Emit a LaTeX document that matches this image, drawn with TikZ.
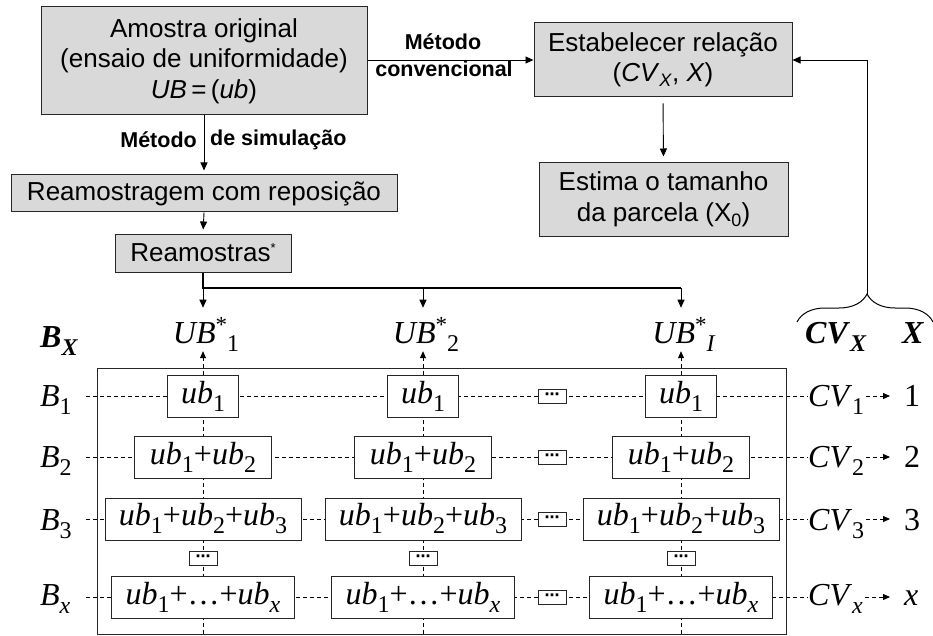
\documentclass[tikz,border=0pt]{standalone}
\usepackage{fontspec}
\setmainfont{Liberation Sans}
\newfontfamily\tms{Liberation Serif}
\newfontfamily\dvs{DejaVu Sans}
\usetikzlibrary{arrows.meta,decorations.pathreplacing,calc}
\pgfdeclarelayer{bg}
\pgfsetlayers{bg,main}
\definecolor{boxfill}{HTML}{D9D9D9}
\definecolor{boxline}{HTML}{262626}
\newcommand\ssub[1]{\raisebox{-5pt}{\fontsize{18}{18}\selectfont #1}}
\newcommand\msub[1]{\raisebox{-8pt}{\fontsize{24}{24}\selectfont #1}}
\newcommand\msup[1]{\raisebox{11pt}{\fontsize{23}{23}\selectfont #1}}
\newcommand\ubx[1]{\textit{ub}\msub{#1}}
\newcommand\dotsx{{\dvs\bfseries\fontsize{15}{15}\selectfont ⋯}}
\tikzset{
  gbox/.style={draw=boxline, fill=boxfill, line width=1pt, inner sep=0pt, align=center, font=\fontsize{26}{30.5}\selectfont},
  cell/.style={draw=boxline, fill=white, line width=1pt, inner sep=0pt, minimum height=42pt, font=\tms\fontsize{32}{36}\selectfont},
  mtxt/.style={inner sep=0pt, font=\tms\fontsize{32}{36}\selectfont},
  dotbox/.style={draw=boxline, fill=white, line width=0.9pt, minimum width=28pt, minimum height=14pt, inner sep=0pt},
  arr/.style={-{Triangle[length=8pt,width=7pt]}, line width=0.9pt},
  darr/.style={-{Triangle[length=7pt,width=6pt]}},
  dsh/.style={dash pattern=on 4pt off 3pt, line width=0.8pt},
  lbl/.style={inner sep=0pt, font=\bfseries\fontsize{21.5}{24}\selectfont},
  branch/.style={line width=2pt},
}
\begin{document}
\begin{tikzpicture}[x=1pt,y=-1pt]
\useasboundingbox (0,0) rectangle (933,636);

% top boxes
\node[gbox, minimum width=326pt, minimum height=108pt] (A) at (204,61) {Amostra original\\(ensaio de uniformidade)\\\textit{UB}\,=\,(\textit{ub})};
\node[gbox, minimum width=258pt, minimum height=74pt] (E) at (663,60) {Estabelecer relação\\(\textit{CV}\ssub{\textit{X}}, \textit{X})};
\node[gbox, minimum width=249pt, minimum height=73pt] (S) at (663.5,199.5) {Estima o tamanho\\da parcela (X\ssub{0})};
\node[gbox, minimum width=386pt, minimum height=37pt] (R) at (204,193.5) {Reamostragem com reposição};
\node[gbox, minimum width=176pt, minimum height=38pt] (Rs) at (203,253) {Reamostras\raisebox{9pt}{\fontsize{13}{13}\selectfont *}};

\node[lbl] (m1) at (443,42) {Método};
\node[lbl] (m2) at (444,69) {convencional};
\node[lbl, anchor=east] (ms1) at (197,140) {Método};
\node[lbl, anchor=west] (ms2) at (210,140) {de simulação};

\draw[arr] (A.east |- E.west) -- (E.west);
\draw[arr, shorten >=4pt] (A.south) -- (R.north);
\draw[arr, shorten >=4pt] (R.south) -- (Rs.north);
\draw[arr, shorten <=6pt, shorten >=6pt] (E.south) -- (S.north);

% UB labels
\node[mtxt, anchor=base] (U1) at (206,343) {\textit{UB}\msup{*}\msub{1}};
\node[mtxt, anchor=base] (U2) at (426,343) {\textit{UB}\msup{*}\msub{2}};
\node[mtxt, anchor=base] (U3) at (684,343) {\textit{UB}\msup{*}\msub{\textit{I}}};

\coordinate (j1) at (203,288);
\coordinate (j2) at (423,288);
\coordinate (j3) at (681,288);
\draw[branch] (Rs.south) -- (j1) -- (j3);
\draw[arr] (j1) -- ([yshift=9pt]j1 |- U1.north);
\draw[arr] (j2) -- ([yshift=9pt]j2 |- U2.north);
\draw[arr] (j3) -- ([yshift=9pt]j3 |- U3.north);

% headers
\node[mtxt, anchor=base west] (BX) at (40,347) {\textbf{\textit{B}}\msub{\textbf{\textit{X}}}};
\node[mtxt, anchor=base west] (CVX) at (805,343) {\textbf{\textit{CV}}\msub{\textbf{\textit{X}}}};
\node[mtxt, anchor=base west] (XX) at (902,343) {\textbf{\textit{X}}};

% brace and feedback
\draw[decorate, decoration={brace, amplitude=28pt, aspect=0.515}, line width=1pt] (797,322) -- (933,322);
\coordinate (bt) at (867,294);
\draw[arr] (bt) |- (E.east);

% frame
\node[draw=boxline, line width=1pt, minimum width=689pt, minimum height=266pt, inner sep=0pt] (F) at (441.5,501) {};

% cells
\foreach \c/\x in {1/203,2/423,3/681} {
  \node[cell, minimum width=71pt] (r1c\c) at (\x,396) {\ubx{1}};
  \node[cell, minimum width=137pt] (r2c\c) at (\x,457) {\ubx{1}+\ubx{2}};
  \node[cell, minimum width=196pt] (r3c\c) at (\x,519) {\ubx{1}+\ubx{2}+\ubx{3}};
  \node[cell, minimum width=183pt] (r4c\c) at (\x,597) {\ubx{1}+…+\ubx{\textit{x}}};
  \node[dotbox] (v\c) at (\x,558) {\dotsx};
  \coordinate (b\c) at (\x,634);
}
\foreach \r/\y in {1/396,2/457,3/519,4/597} {
  \node[dotbox] (h\r) at (552,\y) {\dotsx};
  \coordinate (hs\r) at (86,\y);
}

% row labels
\node[mtxt, anchor=base west] (B1) at (40,406) {\textit{B}\msub{1}};
\node[mtxt, anchor=base west] (B2) at (40,467) {\textit{B}\msub{2}};
\node[mtxt, anchor=base west] (B3) at (40,530) {\textit{B}\msub{3}};
\node[mtxt, anchor=base west] (B4) at (40,605) {\textit{B}\msub{\textit{x}}};

% CV labels and numbers
\node[mtxt, anchor=base west] (CV1) at (808,406) {\textit{CV}\msub{1}};
\node[mtxt, anchor=base west] (CV2) at (808,467) {\textit{CV}\msub{2}};
\node[mtxt, anchor=base west] (CV3) at (808,530) {\textit{CV}\msub{3}};
\node[mtxt, anchor=base west] (CV4) at (808,605) {\textit{CV}\msub{\textit{x}}};
\node[mtxt, anchor=base west] (N1) at (904,406) {1};
\node[mtxt, anchor=base west] (N2) at (904,467) {2};
\node[mtxt, anchor=base west] (N3) at (904,530) {3};
\node[mtxt, anchor=base west] (N4) at (904,605) {\textit{x}};

\foreach \r in {1,2,3,4} {
  \draw[dsh, darr, shorten <=2pt, shorten >=14pt] (CV\r.east |- hs\r) -- (N\r.west |- hs\r);
}

\begin{pgfonlayer}{bg}
\foreach \r in {1,2,3,4} {
  \draw[dsh] (hs\r) -- (hs\r -| CV\r.west);
}
\draw[dsh, darr] (b1) -- (b1 |- U1.south);
\draw[dsh, darr] (b2) -- (b2 |- U2.south);
\draw[dsh, darr] (b3) -- (b3 |- U3.south);
\end{pgfonlayer}
\end{tikzpicture}
\end{document}
